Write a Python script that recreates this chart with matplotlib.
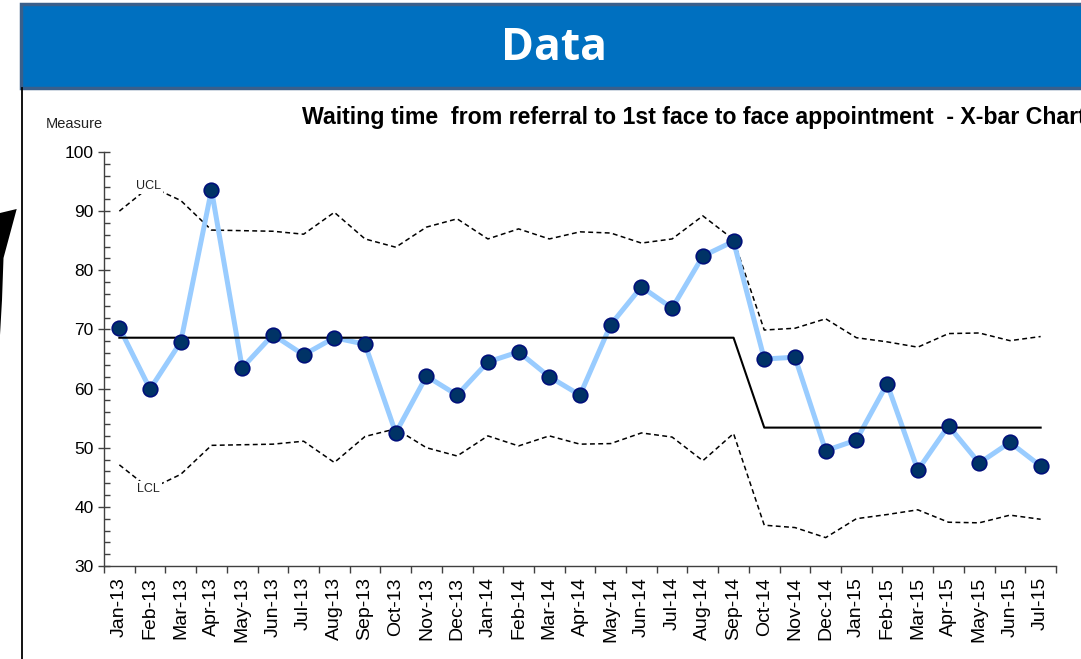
import matplotlib
matplotlib.use('Agg')
import matplotlib.pyplot as plt
from matplotlib.patches import Rectangle, Polygon
from matplotlib.lines import Line2D
import numpy as np

months = ['Jan-13', 'Feb-13', 'Mar-13', 'Apr-13', 'May-13', 'Jun-13', 'Jul-13', 'Aug-13',
          'Sep-13', 'Oct-13', 'Nov-13', 'Dec-13', 'Jan-14', 'Feb-14', 'Mar-14', 'Apr-14',
          'May-14', 'Jun-14', 'Jul-14', 'Aug-14', 'Sep-14', 'Oct-14', 'Nov-14', 'Dec-14',
          'Jan-15', 'Feb-15', 'Mar-15', 'Apr-15', 'May-15', 'Jun-15', 'Jul-15']
values = [70.3, 59.9, 67.9, 93.6, 63.5, 69.1, 65.7, 68.6, 67.5, 52.5, 62.1, 58.9,
          64.5, 66.2, 62.0, 58.9, 70.8, 77.2, 73.6, 82.4, 84.9, 65.0, 65.3, 49.5,
          51.3, 60.8, 46.2, 53.7, 47.4, 50.9, 46.9]
ucl = [90.0, 94.2, 91.8, 86.8, 86.7, 86.6, 86.1, 89.8, 85.3, 83.9, 87.3, 88.7,
       85.3, 87.0, 85.3, 86.5, 86.3, 84.6, 85.3, 89.2, 85.2, 69.9, 70.2, 71.8,
       68.6, 67.9, 67.0, 69.3, 69.4, 68.1, 68.8]
lcl = [47.1, 43.0, 45.5, 50.4, 50.5, 50.6, 51.1, 47.5, 51.9, 53.2, 50.0, 48.6,
       52.0, 50.3, 52.0, 50.6, 50.7, 52.5, 51.8, 47.8, 52.4, 36.9, 36.5, 34.8,
       38.0, 38.7, 39.5, 37.4, 37.3, 38.6, 37.9]
center = [68.6, 68.6, 68.6, 68.6, 68.6, 68.6, 68.6, 68.6, 68.6, 68.6, 68.6, 68.6,
          68.6, 68.6, 68.6, 68.6, 68.6, 68.6, 68.6, 68.6, 68.6, 53.4, 53.4, 53.4,
          53.4, 53.4, 53.4, 53.4, 53.4, 53.4, 53.4]

W, H = 1081, 659
fig = plt.figure(figsize=(W / 100, H / 100), dpi=100)
fig.patch.set_facecolor('white')


def fx(px):
    return px / W


def fy(py):
    return 1 - py / H


FONT = 'Liberation Sans'

# header bar
fig.add_artist(Rectangle((fx(21), fy(88)), (1090 - 21) / W, (88 - 4) / H,
                         transform=fig.transFigure, facecolor='#0070C0',
                         edgecolor='#3A5F8B', linewidth=2.5))
fig.text(fx(554), fy(48), 'Data', color='white', fontsize=32, fontweight='bold',
         family='Open Sans', ha='center', va='center')
fig.add_artist(Line2D([fx(22), fx(22)], [fy(88), fy(660)], transform=fig.transFigure,
                      color='black', linewidth=1.3))
fig.add_artist(Polygon([(fx(0), fy(213)), (fx(16.7), fy(209)), (fx(3.5), fy(258)),
                        (fx(2), fy(300)), (fx(0), fy(335))], closed=True,
                       transform=fig.transFigure, facecolor='black', edgecolor='none'))

ax = fig.add_axes([fx(104), fy(566), (1056 - 104) / W, (566 - 152) / H])
x = np.arange(len(months))

ax.plot(x, ucl, color='black', linewidth=1.1, dashes=(3.2, 2.2), zorder=2)
ax.plot(x, lcl, color='black', linewidth=1.1, dashes=(3.2, 2.2), zorder=2)
ax.plot(x, values, color='#99CCFF', linewidth=3.6, zorder=3, solid_joinstyle='round')
ax.plot(x, center, color='black', linewidth=1.5, zorder=4)
ax.plot(x, values, linestyle='none', marker='o', markersize=10.5,
        markerfacecolor='#003366', markeredgecolor='#00107A', markeredgewidth=1.2,
        zorder=5, clip_on=False)

ax.text(0.95, 94.3, 'UCL', fontsize=9, family=FONT, ha='center', va='center',
        color='#222222', zorder=6,
        bbox=dict(facecolor='white', edgecolor='none', pad=1.5))
ax.text(0.95, 43.0, 'LCL', fontsize=9, family=FONT, ha='center', va='center',
        color='#222222', zorder=6,
        bbox=dict(facecolor='white', edgecolor='none', pad=1.5))

ax.set_xlim(-0.5, len(months) - 0.5)
ax.set_ylim(30, 100)
for s in ['top', 'right']:
    ax.spines[s].set_visible(False)
for s in ['left', 'bottom']:
    ax.spines[s].set_color('#404040')
    ax.spines[s].set_linewidth(1.0)

ax.set_xticks(np.arange(-0.5, len(months), 1.0))
ax.set_xticklabels([])
ax.set_xticks(x, minor=True)
ax.set_xticklabels(months, minor=True, rotation=90, fontsize=14, family=FONT)
ax.tick_params(axis='x', which='major', direction='out', length=5, color='#404040', width=1)
ax.tick_params(axis='x', which='minor', length=0, pad=8)

ax.set_yticks(np.arange(30, 101, 10))
ax.set_yticks(np.arange(30, 101, 2), minor=True)
ax.set_yticklabels([str(v) for v in range(30, 101, 10)], fontsize=12.5, family=FONT)
ax.tick_params(axis='y', which='major', direction='inout', length=8.6, color='#404040',
               width=1, pad=3)
ax.tick_params(axis='y', which='minor', direction='in', length=4.3, color='#404040', width=1)

fig.text(fx(46), fy(128), 'Measure', fontsize=10.5, family=FONT, ha='left',
         va='baseline', color='#222222')
fig.text(fx(302), fy(124),
         'Waiting time  from referral to 1st face to face appointment  - X-bar Chart',
         fontsize=16.7, fontweight='bold', family=FONT, ha='left', va='baseline',
         color='black')

fig.savefig('out.png', dpi=100)
